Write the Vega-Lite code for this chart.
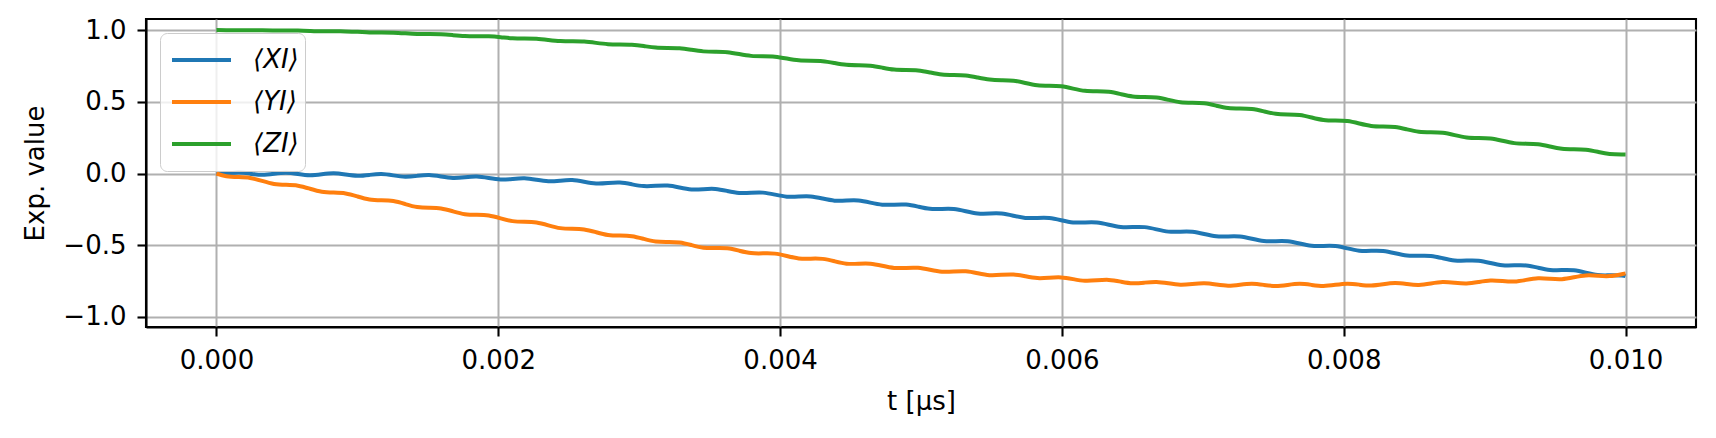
{
  "$schema": "https://vega.github.io/schema/vega-lite/v6.json",
  "autosize": {"type": "none"},
  "width": 1550,
  "height": 308,
  "padding": {"left": 146, "top": 19, "right": 20, "bottom": 111},
  "background": "white",
  "data": {
    "values": [
      {"t": 0, "XI": 0, "YI": 0, "ZI": 1},
      {"t": 0.0000704, "XI": -0.0003, "YI": -0.0188, "ZI": 0.9993},
      {"t": 0.000155, "XI": 0.0069, "YI": -0.0248, "ZI": 0.9991},
      {"t": 0.0002396, "XI": -0.001, "YI": -0.0308, "ZI": 0.9989},
      {"t": 0.0003243, "XI": -0.0088, "YI": -0.0519, "ZI": 0.9981},
      {"t": 0.0004089, "XI": -0.0016, "YI": -0.0729, "ZI": 0.9972},
      {"t": 0.0004935, "XI": 0.0055, "YI": -0.079, "ZI": 0.997},
      {"t": 0.0005782, "XI": -0.0029, "YI": -0.085, "ZI": 0.9966},
      {"t": 0.0006628, "XI": -0.0115, "YI": -0.106, "ZI": 0.9941},
      {"t": 0.0007474, "XI": -0.005, "YI": -0.1271, "ZI": 0.9915},
      {"t": 0.000832, "XI": 0.0015, "YI": -0.1331, "ZI": 0.991},
      {"t": 0.0009167, "XI": -0.007, "YI": -0.1392, "ZI": 0.9905},
      {"t": 0.0010013, "XI": -0.0155, "YI": -0.1602, "ZI": 0.988},
      {"t": 0.0010859, "XI": -0.0097, "YI": -0.1809, "ZI": 0.9836},
      {"t": 0.0011706, "XI": -0.0039, "YI": -0.1866, "ZI": 0.9825},
      {"t": 0.0012552, "XI": -0.0131, "YI": -0.1923, "ZI": 0.9815},
      {"t": 0.0013398, "XI": -0.0223, "YI": -0.213, "ZI": 0.9771},
      {"t": 0.0014245, "XI": -0.0165, "YI": -0.2337, "ZI": 0.9727},
      {"t": 0.0015091, "XI": -0.0108, "YI": -0.2393, "ZI": 0.9716},
      {"t": 0.0015937, "XI": -0.021, "YI": -0.244, "ZI": 0.9704},
      {"t": 0.0016783, "XI": -0.0312, "YI": -0.2637, "ZI": 0.9645},
      {"t": 0.001763, "XI": -0.0264, "YI": -0.2834, "ZI": 0.9587},
      {"t": 0.0018476, "XI": -0.0216, "YI": -0.2881, "ZI": 0.9574},
      {"t": 0.0019322, "XI": -0.0318, "YI": -0.2927, "ZI": 0.9561},
      {"t": 0.0020169, "XI": -0.0421, "YI": -0.3124, "ZI": 0.9501},
      {"t": 0.0021015, "XI": -0.0377, "YI": -0.3321, "ZI": 0.9423},
      {"t": 0.0021861, "XI": -0.0332, "YI": -0.3368, "ZI": 0.9406},
      {"t": 0.0022708, "XI": -0.0437, "YI": -0.3415, "ZI": 0.9388},
      {"t": 0.0023554, "XI": -0.0543, "YI": -0.3612, "ZI": 0.9311},
      {"t": 0.00244, "XI": -0.0498, "YI": -0.3809, "ZI": 0.9234},
      {"t": 0.0025246, "XI": -0.0458, "YI": -0.3854, "ZI": 0.9214},
      {"t": 0.0026093, "XI": -0.0577, "YI": -0.3898, "ZI": 0.9195},
      {"t": 0.0026939, "XI": -0.0696, "YI": -0.4091, "ZI": 0.9106},
      {"t": 0.0027785, "XI": -0.0665, "YI": -0.4285, "ZI": 0.9017},
      {"t": 0.0028632, "XI": -0.0634, "YI": -0.4328, "ZI": 0.8998},
      {"t": 0.0029478, "XI": -0.0753, "YI": -0.4372, "ZI": 0.8978},
      {"t": 0.0030324, "XI": -0.0877, "YI": -0.4561, "ZI": 0.8885},
      {"t": 0.0031171, "XI": -0.086, "YI": -0.4743, "ZI": 0.8777},
      {"t": 0.0032017, "XI": -0.0842, "YI": -0.4774, "ZI": 0.8753},
      {"t": 0.0032863, "XI": -0.0975, "YI": -0.4806, "ZI": 0.8729},
      {"t": 0.0033709, "XI": -0.1107, "YI": -0.4987, "ZI": 0.8621},
      {"t": 0.0034556, "XI": -0.109, "YI": -0.5169, "ZI": 0.8513},
      {"t": 0.0035402, "XI": -0.1076, "YI": -0.5194, "ZI": 0.8483},
      {"t": 0.0036248, "XI": -0.1215, "YI": -0.5212, "ZI": 0.8455},
      {"t": 0.0037095, "XI": -0.1354, "YI": -0.538, "ZI": 0.8327},
      {"t": 0.0037941, "XI": -0.1344, "YI": -0.5549, "ZI": 0.8199},
      {"t": 0.0038787, "XI": -0.1333, "YI": -0.5567, "ZI": 0.8172},
      {"t": 0.0039634, "XI": -0.1472, "YI": -0.5585, "ZI": 0.8144},
      {"t": 0.004048, "XI": -0.1614, "YI": -0.5752, "ZI": 0.8016},
      {"t": 0.0041326, "XI": -0.1609, "YI": -0.5918, "ZI": 0.7888},
      {"t": 0.0042172, "XI": -0.1603, "YI": -0.5935, "ZI": 0.786},
      {"t": 0.0043019, "XI": -0.1748, "YI": -0.5951, "ZI": 0.7832},
      {"t": 0.0043865, "XI": -0.1892, "YI": -0.6117, "ZI": 0.7704},
      {"t": 0.0044711, "XI": -0.1886, "YI": -0.6284, "ZI": 0.7577},
      {"t": 0.0045558, "XI": -0.1882, "YI": -0.6288, "ZI": 0.7545},
      {"t": 0.0046404, "XI": -0.2028, "YI": -0.6286, "ZI": 0.7515},
      {"t": 0.004725, "XI": -0.2174, "YI": -0.6434, "ZI": 0.738},
      {"t": 0.0048097, "XI": -0.217, "YI": -0.6581, "ZI": 0.7243},
      {"t": 0.0048943, "XI": -0.2166, "YI": -0.6579, "ZI": 0.7214},
      {"t": 0.0049789, "XI": -0.2312, "YI": -0.6577, "ZI": 0.7184},
      {"t": 0.0050635, "XI": -0.2465, "YI": -0.6714, "ZI": 0.7044},
      {"t": 0.0051482, "XI": -0.2469, "YI": -0.6849, "ZI": 0.69},
      {"t": 0.0052328, "XI": -0.2474, "YI": -0.6833, "ZI": 0.6868},
      {"t": 0.0053174, "XI": -0.2628, "YI": -0.6817, "ZI": 0.6836},
      {"t": 0.0054021, "XI": -0.2783, "YI": -0.6951, "ZI": 0.6692},
      {"t": 0.0054867, "XI": -0.2788, "YI": -0.7086, "ZI": 0.6548},
      {"t": 0.0055713, "XI": -0.2791, "YI": -0.7063, "ZI": 0.6507},
      {"t": 0.005656, "XI": -0.2944, "YI": -0.7039, "ZI": 0.6472},
      {"t": 0.0057406, "XI": -0.3096, "YI": -0.7164, "ZI": 0.6311},
      {"t": 0.0058252, "XI": -0.3099, "YI": -0.729, "ZI": 0.615},
      {"t": 0.0059098, "XI": -0.3102, "YI": -0.7266, "ZI": 0.6115},
      {"t": 0.0059945, "XI": -0.3255, "YI": -0.7242, "ZI": 0.6079},
      {"t": 0.0060791, "XI": -0.3409, "YI": -0.7361, "ZI": 0.592},
      {"t": 0.0061637, "XI": -0.3414, "YI": -0.748, "ZI": 0.5761},
      {"t": 0.0062484, "XI": -0.3418, "YI": -0.7449, "ZI": 0.5727},
      {"t": 0.006333, "XI": -0.3573, "YI": -0.7418, "ZI": 0.5692},
      {"t": 0.0064176, "XI": -0.3728, "YI": -0.7537, "ZI": 0.5534},
      {"t": 0.0065023, "XI": -0.3732, "YI": -0.7656, "ZI": 0.5372},
      {"t": 0.0065869, "XI": -0.3738, "YI": -0.7606, "ZI": 0.5336},
      {"t": 0.0066715, "XI": -0.3895, "YI": -0.7556, "ZI": 0.5299},
      {"t": 0.0067561, "XI": -0.4051, "YI": -0.7657, "ZI": 0.5133},
      {"t": 0.0068408, "XI": -0.4057, "YI": -0.7757, "ZI": 0.4966},
      {"t": 0.0069254, "XI": -0.4063, "YI": -0.7708, "ZI": 0.493},
      {"t": 0.00701, "XI": -0.422, "YI": -0.7656, "ZI": 0.4892},
      {"t": 0.0070947, "XI": -0.4378, "YI": -0.7738, "ZI": 0.4728},
      {"t": 0.0071793, "XI": -0.4386, "YI": -0.7819, "ZI": 0.4564},
      {"t": 0.0072639, "XI": -0.4394, "YI": -0.7751, "ZI": 0.4529},
      {"t": 0.0073486, "XI": -0.4552, "YI": -0.7683, "ZI": 0.4493},
      {"t": 0.0074332, "XI": -0.471, "YI": -0.7765, "ZI": 0.4329},
      {"t": 0.0075178, "XI": -0.4717, "YI": -0.7845, "ZI": 0.416},
      {"t": 0.0076024, "XI": -0.4725, "YI": -0.7768, "ZI": 0.4121},
      {"t": 0.0076871, "XI": -0.4883, "YI": -0.7691, "ZI": 0.4082},
      {"t": 0.0077717, "XI": -0.5041, "YI": -0.7765, "ZI": 0.3908},
      {"t": 0.0078563, "XI": -0.5049, "YI": -0.7838, "ZI": 0.3733},
      {"t": 0.007941, "XI": -0.5057, "YI": -0.7761, "ZI": 0.3694},
      {"t": 0.0080256, "XI": -0.5216, "YI": -0.7682, "ZI": 0.3655},
      {"t": 0.0081102, "XI": -0.5377, "YI": -0.7747, "ZI": 0.3486},
      {"t": 0.0081949, "XI": -0.5389, "YI": -0.7812, "ZI": 0.3316},
      {"t": 0.0082795, "XI": -0.54, "YI": -0.7726, "ZI": 0.3279},
      {"t": 0.0083641, "XI": -0.5561, "YI": -0.7641, "ZI": 0.3242},
      {"t": 0.0084487, "XI": -0.5723, "YI": -0.7706, "ZI": 0.3073},
      {"t": 0.0085334, "XI": -0.5733, "YI": -0.7765, "ZI": 0.2908},
      {"t": 0.008618, "XI": -0.5743, "YI": -0.7665, "ZI": 0.2873},
      {"t": 0.0087026, "XI": -0.5903, "YI": -0.7564, "ZI": 0.2838},
      {"t": 0.0087873, "XI": -0.6062, "YI": -0.7614, "ZI": 0.2677},
      {"t": 0.0088719, "XI": -0.6072, "YI": -0.7663, "ZI": 0.2516},
      {"t": 0.0089565, "XI": -0.6082, "YI": -0.7563, "ZI": 0.248},
      {"t": 0.0090412, "XI": -0.624, "YI": -0.7456, "ZI": 0.2445},
      {"t": 0.0091258, "XI": -0.6396, "YI": -0.7492, "ZI": 0.2282},
      {"t": 0.0092104, "XI": -0.6402, "YI": -0.7528, "ZI": 0.2118},
      {"t": 0.009295, "XI": -0.6408, "YI": -0.7414, "ZI": 0.2082},
      {"t": 0.0093797, "XI": -0.6565, "YI": -0.73, "ZI": 0.2046},
      {"t": 0.0094643, "XI": -0.6721, "YI": -0.7336, "ZI": 0.1882},
      {"t": 0.0095489, "XI": -0.6733, "YI": -0.7364, "ZI": 0.1729},
      {"t": 0.0096336, "XI": -0.6749, "YI": -0.7234, "ZI": 0.1696},
      {"t": 0.0097182, "XI": -0.6916, "YI": -0.7105, "ZI": 0.1662},
      {"t": 0.0098028, "XI": -0.7082, "YI": -0.7126, "ZI": 0.1513},
      {"t": 0.0098875, "XI": -0.7099, "YI": -0.7147, "ZI": 0.1364},
      {"t": 0.0099721, "XI": -0.7115, "YI": -0.7018, "ZI": 0.133},
      {"t": 0.01, "XI": -0.7155, "YI": -0.6962, "ZI": 0.1329}
    ]
  },
  "transform": [
    {"fold": ["XI", "YI", "ZI"], "as": ["series", "value"]}
  ],
  "mark": {"type": "line", "interpolate": "natural", "strokeWidth": 4, "strokeCap": "butt"},
  "encoding": {
    "x": {
      "field": "t",
      "type": "quantitative",
      "title": "t [μs]",
      "scale": {"domain": [-0.0005, 0.0105], "nice": false, "zero": false},
      "axis": {"values": [0, 0.002, 0.004, 0.006, 0.008, 0.01], "format": ".3f", "titlePadding": 15}
    },
    "y": {
      "field": "value",
      "type": "quantitative",
      "title": "Exp. value",
      "scale": {"domain": [-1.07, 1.077], "nice": false, "zero": false},
      "axis": {"values": [-1, -0.5, 0, 0.5, 1], "format": ".1f", "titlePadding": 14}
    },
    "color": {
      "field": "series",
      "type": "nominal",
      "scale": {"domain": ["XI", "YI", "ZI"], "range": ["#1f77b4", "#ff7f0e", "#2ca02c"]},
      "legend": {
        "title": null,
        "orient": "none",
        "legendX": 14,
        "legendY": 14,
        "labelExpr": "'⟨' + datum.label + '⟩'",
        "symbolType": "stroke",
        "symbolSize": 3481,
        "symbolStrokeWidth": 4,
        "labelFontSize": 26,
        "labelFontStyle": "italic",
        "labelColor": "black",
        "labelOffset": 20,
        "clipHeight": 42,
        "rowPadding": 0,
        "padding": 6,
        "symbolOffset": 4,
        "fillColor": "rgba(255,255,255,0.8)",
        "strokeColor": "#cccccc",
        "cornerRadius": 7
      }
    }
  },
  "config": {
    "font": "DejaVu Sans",
    "view": {"stroke": "black", "strokeWidth": 2.1},
    "axis": {
      "grid": true,
      "gridColor": "#b0b0b0",
      "gridWidth": 2,
      "domainColor": "black",
      "domainWidth": 2.1,
      "tickColor": "black",
      "tickWidth": 2.1,
      "tickSize": 9,
      "labelFontSize": 26,
      "labelColor": "black",
      "labelPadding": 11,
      "titleFontSize": 26,
      "titleFontWeight": "normal",
      "titleColor": "black"
    }
  }
}
